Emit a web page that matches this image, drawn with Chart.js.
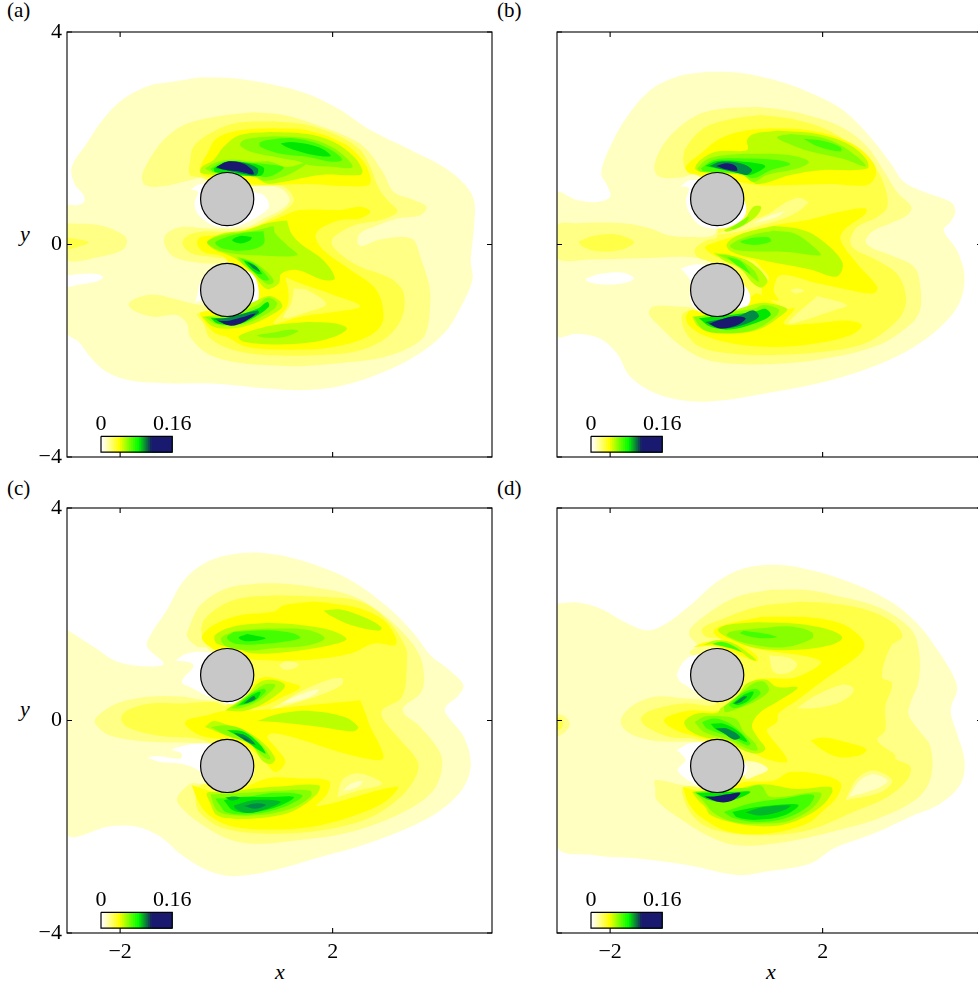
<!DOCTYPE html>
<html>
<head>
<meta charset="utf-8">
<title>Contours</title>
<script src="https://cdn.jsdelivr.net/npm/chart.js@4"></script>
<style>
  html, body { margin: 0; padding: 0; background: #fff; }
  #page { position: relative; width: 978px; height: 985px; overflow: hidden; }
  #page canvas { position: absolute; }
  #page span { position: absolute; font-family: "Liberation Serif", serif; font-size: 21px; color: #000; line-height: 24px; }
  #page span.var { font-style: italic; font-size: 22px; }
</style>
</head>
<body>
<div id="page">
  <span style="left:7px;top:-2px">(a)</span>
  <span style="left:497px;top:-2px">(b)</span>
  <span style="left:7px;top:476px">(c)</span>
  <span style="left:497px;top:476px">(d)</span>
  <span class="var" style="left:20px;top:222px">y</span>
  <span class="var" style="left:20px;top:697px">y</span>
  <span class="var" style="left:275px;top:960px">x</span>
  <span class="var" style="left:766px;top:960px">x</span>
</div>
<script>
// contour level colours, white up to navy
const levelColors = ['#ffffff', '#ffffc2', '#ffff85', '#ffff47', '#ffff00', '#bbff00', '#88ff00', '#44ff00', '#00e800', '#00b82a', '#008a48', '#0c4e62', '#191970'];

const xTicks = [-2, 2];
const yTicks = [-4, 0, 4];

const cylinderX = [0.015, 0.015];
const cylinderY = [0.855, -0.855];

// colour bar, drawn in data units
const barEdges = [-2.36, -2.32, -2.28, -2.24, -2.20, -2.16, -2.12, -2.08, -2.04, -2.00, -1.96, -1.92, -1.88, -1.84, -1.80, -1.76, -1.72, -1.68, -1.64, -1.60, -1.56, -1.52, -1.48, -1.44, -1.40, -1.02];
const barColors = ['#ffffff', '#ffffdf', '#ffffbf', '#ffff9f', '#ffff80', '#ffff60', '#ffff40', '#ffff20', '#ffff00', '#e3ff00', '#c6ff00', '#aaff00', '#8eff00', '#71ff00', '#55ff00', '#39ff00', '#1cff00', '#00ff00', '#04db10', '#07b720', '#0b9330', '#0e6f40', '#124b50', '#152760', '#191970'];
const barTop = -3.61;
const barBottom = -3.91;
const barLabels = ['0', '0.16'];
const barLabelX = [-2.36, -1.02];
const barLabelY = -3.38;

// each entry: [level, [x, y, x, y, ...]] painted in order
const fieldA = [
  [1, [-.49,3.15,-1.12,3.05,-1.43,3.00,-1.93,2.75,-2.31,2.37,-2.63,1.90,-2.91,1.46,-2.86,1.15,-2.69,.93,-2.68,.80,-2.81,.74,-3,.72,-3,-1.65,-2.78,-1.83,-2.56,-2.12,-2.25,-2.40,-1.81,-2.56,-1.12,-2.61,-.18,-2.62,.77,-2.71,1.52,-2.74,2.21,-2.65,2.96,-2.40,3.59,-2.08,4.09,-1.68,4.38,-1.24,4.63,-.67,4.60,-.30,4.66,.33,4.66,.84,4.47,1.15,4.09,1.46,3.47,1.78,2.65,2.19,2.15,2.53,1.52,2.84,.77,3.03,.14,3.13]],
  [0, [-3,-.58,-2.69,-.55,-2.41,-.56,-2.32,-.62,-2.46,-.70,-2.81,-.76,-3,-.79]],
  [2, [-3,.40,-2.37,.36,-1.93,.18,-1.87,.05,-1.96,-.11,-2.37,-.23,-3,-.28]],
  [3, [-3,.13,-2.75,.09,-2.59,.04,-2.75,-.03,-3,-.08]],
  [2, [.51,2.49,-.18,2.41,-.80,2.25,-1.18,1.97,-1.49,1.53,-1.59,1.27,-1.53,1.12,-1.24,1.09,-.68,1.21,-.36,1.27,.01,1.09,.51,1.15,1.02,1.06,1.19,.84,1.02,.65,.70,.49,.39,.33,-.30,.30,-.84,.33,-1.12,.21,-1.17,.02,-.99,-.23,-.49,-.35,-.05,-.39,.20,-.67,.33,-.92,.01,-1.17,-.49,-1.14,-.99,-1.02,-1.37,-.94,-1.68,-1.00,-1.84,-1.12,-1.75,-1.24,-1.37,-1.36,-.93,-1.33,-.74,-1.49,-.68,-1.74,-.36,-2.05,.14,-2.21,.77,-2.27,1.39,-2.29,2.34,-2.21,2.96,-2.12,3.47,-1.93,3.75,-1.68,3.84,-1.05,3.81,-.73,3.65,-.23,3.53,.08,3.28,.14,2.84,.08,2.56,-.03,2.47,.02,2.52,.21,2.84,.36,3.22,.49,3.65,.55,3.77,.71,3.53,.84,3.15,.99,2.96,1.34,2.65,1.78,2.34,2.00,1.71,2.25,1.08,2.44]],
  [3, [.89,2.32,.14,2.28,-.36,2.06,-.62,1.84,-.68,1.59,-.69,1.31,-.49,1.26,.01,1.09,.77,1.11,1.08,1.09,1.27,.84,1.11,.65,.77,.46,.45,.30,.01,.24,-.49,.24,-.77,.14,-.82,-.01,-.65,-.17,-.24,-.24,.01,-.30,.20,-.67,.33,-.92,.01,-1.24,-.55,-1.30,-.43,-1.49,-.30,-1.77,.14,-1.99,.77,-2.08,1.77,-2.08,2.52,-1.99,3.03,-1.74,3.31,-1.36,3.34,-.92,3.18,-.70,2.96,-.58,2.52,-.42,2.21,-.23,1.99,-.01,2.02,.14,2.40,.36,2.90,.46,3.22,.62,3.03,.84,2.87,1.06,2.71,1.46,2.52,1.78,2.15,2.03,1.52,2.25]],
  [4, [.89,2.19,.26,2.15,-.18,2.00,-.36,1.71,-.49,1.46,-.46,1.31,.01,1.21,.70,1.12,1.52,1.14,2.21,1.10,2.68,1.12,2.71,1.27,2.56,1.59,2.21,1.90,1.52,2.15]],
  [4, [1.02,.52,1.39,.65,2.15,.65,2.52,.71,2.71,.62,2.52,.49,2.15,.46,1.77,.30,1.68,.14,1.83,-.11,2.34,-.48,2.78,-.80,2.93,-1.11,2.93,-1.49,2.65,-1.74,2.02,-1.93,1.27,-1.98,.39,-1.93,.01,-1.74,-.24,-1.65,-.46,-1.39,-.49,-1.28,.01,-1.17,.26,-.80,.08,-.42,-.05,-.23,-.43,-.14,-.55,.01,-.49,.14,.01,.19,.51,.33]],
  [3, [1.11,-.61,1.39,-.73,2.02,-.95,2.52,-1.16,2.02,-1.27,1.39,-1.36,.89,-1.49,1.14,-1.17,1.17,-.92]],
  [2, [1.27,-.83,1.52,-.86,1.88,-1.12,1.52,-1.27,1.08,-1.38,1.22,-1.11]],
  [0, [-.67,1.04,-.49,1.14,.01,1.15,.51,.99,.70,.93,.80,.71,.58,.52,.14,.33,-.24,.36,-.52,.55,-.60,.77,-.54,.99]],
  [0, [-.58,-1.08,-.43,-1.06,.01,-1.30,.55,-1.11,.61,-.86,.48,-.55,.01,-.42,-.46,-.67,-.54,-.92]],
  [5, [.83,2.12,.26,2.06,-.05,1.84,-.24,1.59,-.46,1.46,-.48,1.35,-.24,1.31,.51,1.27,.77,1.15,1.08,1.18,1.77,1.31,2.52,1.31,2.56,1.40,2.40,1.65,2.02,1.93,1.52,2.08]],
  [5, [1.14,.45,.77,.40,.39,.27,-.05,.21,-.36,.05,-.24,-.09,.11,-.23,.33,-.39,.55,-.61,.70,-.80,.80,-.84,.99,-.73,1.03,-.55,1.33,-.48,1.83,-.67,2.04,-.64,1.83,-.30,1.39,.02,1.22,.21]],
  [5, [1.52,-1.46,.89,-1.52,.39,-1.65,.23,-1.74,.33,-1.83,.89,-1.88,1.52,-1.85,2.02,-1.74,2.27,-1.58,2.02,-1.48]],
  [5, [-.46,-1.36,-.24,-1.55,.08,-1.58,.51,-1.49,.89,-1.30,1.05,-1.17,.99,-1.05,.80,-.97,.58,-1.05,.01,-1.30]],
  [6, [.89,2.04,.36,1.98,.26,1.87,.51,1.73,1.02,1.63,1.39,1.56,1.58,1.49,2.02,1.46,2.37,1.45,2.27,1.62,1.96,1.85,1.52,2.00]],
  [6, [-.40,1.43,-.24,1.53,.08,1.60,.51,1.56,.83,1.56,1.14,1.46,1.52,1.54,1.33,1.40,1.02,1.26,.70,1.20,.51,1.31,-.24,1.35]],
  [7, [1.02,2.00,.64,1.93,.64,1.84,1.02,1.71,1.52,1.65,1.96,1.56,2.18,1.59,2.02,1.75,1.65,1.92,1.27,2.00]],
  [8, [1.02,1.90,1.14,1.83,1.52,1.71,1.96,1.66,1.83,1.79,1.52,1.89,1.21,1.93]],
  [7, [-.30,1.43,-.05,1.56,.45,1.54,.77,1.51,1.08,1.45,.89,1.31,.70,1.27,.45,1.34,-.24,1.37]],
  [8, [-.24,1.43,.01,1.55,.39,1.54,.70,1.45,.67,1.31,.45,1.29,-.21,1.36]],
  [10, [-.21,1.44,.01,1.56,.33,1.54,.59,1.43,.57,1.31,.42,1.31]],
  [12, [-.19,1.46,.01,1.56,.30,1.53,.48,1.41,.51,1.32,.26,1.37,-.05,1.41]],
  [6, [.89,.35,.51,.26,-.05,.18,-.36,.05,-.21,-.08,.11,-.17,.51,-.20,1.33,-.20,1.14,-.01,.92,.21]],
  [7, [.70,.25,.33,.22,-.08,.11,-.21,.03,-.05,-.08,.39,-.11,.70,.01]],
  [8, [.48,.14,.26,.16,.11,.08,.26,.02,.45,.08]],
  [6, [.20,-.23,.51,-.33,.80,-.55,.89,-.70,.77,-.75,.58,-.58,.30,-.36]],
  [7, [.26,-.26,.51,-.35,.73,-.55,.80,-.67,.67,-.66,.45,-.45]],
  [8, [.33,-.30,.51,-.37,.67,-.55,.58,-.55,.39,-.39]],
  [10, [.39,-.33,.55,-.41,.63,-.51,.51,-.45]],
  [6, [-.40,-1.36,-.21,-1.49,.14,-1.53,.45,-1.46,.89,-1.22,.95,-1.09,.77,-1.00,.58,-1.14,.01,-1.36]],
  [8, [-.30,-1.38,-.18,-1.48,.14,-1.51,.42,-1.43,.80,-1.17,.77,-1.08,.58,-1.21,.01,-1.38]],
  [10, [-.24,-1.40,.08,-1.51,.39,-1.41,.61,-1.29,.58,-1.24,.01,-1.38]],
  [12, [-.18,-1.43,.08,-1.53,.33,-1.46,.55,-1.30,.26,-1.38,.01,-1.44]],
  [6, [.92,-1.65,.58,-1.71,.70,-1.75,1.08,-1.74,1.36,-1.63,1.21,-1.60]]
];

const fieldB = [
  [1, [-.18,3.25,.39,3.24,1.08,3.10,1.71,2.88,2.34,2.56,2.84,2.09,3.28,1.53,3.53,1.18,3.91,.99,4.41,.80,4.50,.62,4.41,.43,4.28,.27,4.53,-.11,4.67,-.61,4.57,-1.11,4.22,-1.55,3.72,-1.93,3.03,-2.27,2.02,-2.59,.89,-2.81,.14,-2.93,-.49,-2.95,-1.12,-2.81,-1.62,-2.49,-1.87,-2.05,-2.19,-1.77,-2.63,-1.68,-3,-1.71,-3,.96,-2.63,.84,-2.25,.80,-2.00,.90,-2.06,1.12,-2.17,1.34,-2.00,1.84,-1.68,2.41,-1.24,2.91,-.74,3.16]],
  [0, [-2.46,-.64,-2.18,-.55,-1.75,-.53,-1.55,-.64,-1.75,-.73,-2.18,-.75,-2.43,-.69]],
  [2, [.77,2.59,.14,2.56,-.36,2.44,-.80,2.12,-1.06,1.78,-1.17,1.43,-1.06,1.27,-.68,1.26,-.36,1.31,-.05,.96,.01,.40,-.05,.18,-.49,.14,-.93,.18,-1.24,.30,-1.75,.40,-2.63,.40,-3,.36,-3,-.26,-2.37,-.28,-1.43,-.26,-.49,-.24,-.05,-.37,.20,-.80,.01,-1.17,-.65,-1.17,-1.18,-1.16,-1.27,-1.30,-1.06,-1.55,-.68,-1.90,-.24,-2.15,.26,-2.24,1.08,-2.25,2.02,-2.15,2.96,-1.93,3.47,-1.65,3.81,-1.30,3.84,-.80,3.72,-.42,3.28,-.20,2.96,-.08,2.81,.05,2.93,.24,3.28,.40,3.59,.55,3.67,.71,3.40,.99,3.18,1.34,2.84,1.84,2.34,2.22,1.71,2.44,1.08,2.56]],
  [3, [-2.60,.05,-2.32,.16,-1.88,.19,-1.55,.05,-1.75,-.09,-2.19,-.13,-2.50,-.05]],
  [3, [.83,2.44,.26,2.36,-.24,2.19,-.58,1.81,-.62,1.53,-.52,1.34,-.36,1.31,.01,.96,.01,.14,-.18,.08,-.40,-.08,-.36,-.23,.01,-.39,.26,-.80,.01,-1.21,-.49,-1.24,-.65,-1.33,-.58,-1.65,-.30,-1.93,.26,-2.05,1.08,-2.08,2.02,-2.02,2.78,-1.87,3.28,-1.55,3.53,-1.24,3.56,-.92,3.40,-.55,3.03,-.30,2.59,-.08,2.52,.08,2.65,.33,3.03,.52,3.22,.71,3.15,1.15,2.93,1.53,2.52,1.90,2.02,2.19,1.39,2.37]],
  [2, [1.74,.80,1.55,.88,1.27,.77,.99,.58,.70,.46,.33,.30,-.02,.19,.39,.24,.83,.36,1.27,.49,1.58,.65]],
  [1, [1.30,.63,1.02,.55,.70,.40,.83,.43,1.14,.52]],
  [4, [1.02,2.19,.58,2.15,.08,2.00,-.30,1.71,-.58,1.46,-.49,1.34,.01,1.27,.77,1.12,1.39,1.12,2.15,1.14,2.84,1.12,3.00,1.31,2.96,1.53,2.65,1.84,2.15,2.06,1.58,2.17]],
  [4, [.01,.05,.51,.21,1.08,.36,1.71,.46,2.34,.62,2.81,.68,2.81,.58,2.40,.27,2.34,.08,2.65,-.36,3.03,-.80,2.96,-.92,2.52,-.86,1.90,-.73,1.21,-.58,1.08,-.86,1.17,-1.05,.89,-.99,.86,-.80,.99,-.64,.83,-.42,.70,-.30,.26,-.23,.01,-.23,-.18,-.11,-.21,-.04]],
  [4, [-.58,-1.36,-.49,-1.24,.01,-1.30,.64,-.99,.77,-.92,.92,-1.00,1.33,-1.21,1.47,-1.21,1.27,-1.49,1.77,-1.49,2.46,-1.43,2.74,-1.52,2.52,-1.71,1.83,-1.87,1.08,-1.93,.33,-1.87,-.24,-1.71,-.52,-1.52]],
  [2, [1.39,-.86,1.52,-.83,1.65,-.87,1.49,-.92]],
  [2, [1.90,-.97,2.46,-1.14,2.21,-1.24,1.36,-1.49,1.52,-1.30,1.74,-1.11]],
  [0, [-.68,1.09,-.49,1.21,.01,1.15,.51,.84,.55,.58,.39,.40,.08,.30,-.30,.36,-.52,.62,-.57,.84,-.52,1.06]],
  [0, [-.67,-.45,-.36,-.37,.01,-.45,.55,-.80,.64,-1.05,.51,-1.21,.01,-1.33,-.36,-1.24,-.49,-1.05,-.50,-.67,-.58,-.55]],
  [5, [1.14,2.14,.70,2.08,.58,1.97,.58,1.78,.01,1.75,-.30,1.59,-.40,1.43,-.30,1.37,.51,1.31,.77,1.14,1.39,1.31,1.96,1.40,2.84,1.43,2.81,1.62,2.46,1.90,1.90,2.08]],
  [5, [1.08,.35,.51,.21,.20,.02,.26,-.12,.70,-.26,1.77,-.47,2.27,-.60,2.37,-.33,1.90,.14,1.52,.30]],
  [5, [-.05,-.16,.26,-.20,.64,-.33,.96,-.67,.86,-.81,.70,-.74,.45,-.45,.14,-.30]],
  [5, [.14,.27,.51,.46,.70,.71,.84,.71,.77,.55,.51,.36,.20,.24]],
  [6, [.26,.30,.51,.47,.61,.52,.55,.40,.33,.29]],
  [5, [-.46,-1.36,-.33,-1.55,.08,-1.67,.77,-1.61,1.27,-1.30,1.33,-1.21,1.02,-1.11,.77,-1.11,.01,-1.33]],
  [6, [-.43,-1.36,-.24,-1.61,.14,-1.67,.70,-1.61,1.14,-1.33,1.17,-1.22,.89,-1.14,.70,-1.21]],
  [8, [-.33,-1.39,-.11,-1.55,.26,-1.60,.70,-1.49,1.02,-1.33,.92,-1.21,.70,-1.27]],
  [10, [-.21,-1.46,.08,-1.58,.51,-1.51,.80,-1.36,.70,-1.24,.45,-1.33]],
  [12, [-.14,-1.49,.08,-1.58,.39,-1.52,.55,-1.39,.33,-1.35,.08,-1.41]],
  [6, [1.39,2.08,1.14,2.02,1.33,1.91,1.77,1.75,2.40,1.61,2.81,1.47,2.65,1.65,2.34,1.87,1.96,2.02]],
  [7, [1.64,1.99,1.90,1.85,2.34,1.75,2.34,1.83,2.02,1.95]],
  [6, [-.36,1.43,-.18,1.60,.14,1.68,.77,1.71,1.39,1.68,1.74,1.56,1.52,1.43,.95,1.31,.70,1.18,.48,1.31,-.30,1.37]],
  [7, [-.29,1.43,-.05,1.59,.51,1.62,1.14,1.59,1.39,1.51,1.02,1.40,.70,1.25,.45,1.34,-.24,1.38]],
  [8, [-.21,1.48,.01,1.57,.51,1.56,.92,1.48,.64,1.31,.45,1.34]],
  [10, [-.13,1.48,.08,1.56,.45,1.53,.67,1.41,.58,1.31,.42,1.34]],
  [12, [0,1.48,.20,1.53,.36,1.48,.39,1.39,.20,1.41]],
  [6, [1.08,.26,.67,.18,.26,-.01,.39,-.11,1.33,-.14,1.96,-.20,1.83,-.04,1.46,.21]],
  [7, [.70,.13,.45,.05,.70,-.01,1.02,.05,.99,.13]],
  [6, [.01,-.19,.33,-.23,.70,-.48,.80,-.70,.67,-.61,.42,-.39]],
  [7, [.20,-.23,.45,-.31,.64,-.55,.55,-.50,.33,-.35]]
];

const fieldC = [
  [1, [-3,1.71,-2.50,1.39,-2.06,1.11,-1.56,1.02,-1.18,1.07,-1.49,1.39,-1.43,1.61,-1.12,2.08,-.80,2.64,-.36,2.99,.26,3.15,.89,3.13,1.58,2.96,2.34,2.64,3.03,2.14,3.53,1.64,3.84,1.23,4.16,.98,4.46,.67,4.35,.45,4.13,.26,4.13,.13,4.47,-.31,4.60,-.81,4.47,-1.25,4.03,-1.69,3.47,-2.00,2.65,-2.32,1.77,-2.57,.89,-2.82,.14,-2.93,-.36,-2.82,-.87,-2.51,-1.24,-2.19,-1.68,-2.00,-2.19,-1.99,-3,-2.12]],
  [2, [.58,2.58,.01,2.49,-.49,2.17,-.71,1.73,-.74,1.58,-.55,1.39,-.36,1.36,.01,.89,-.05,.41,-.36,.38,-.87,.45,-1.43,.45,-2.06,.32,-2.44,.07,-2.47,-.06,-2.19,-.28,-1.43,-.40,-.43,-.45,.01,-.68,.14,-1.12,-.49,-1.19,-.68,-1.19,-.93,-1.47,-.80,-1.69,-.49,-1.94,.01,-2.22,.51,-2.32,1.39,-2.25,2.34,-2.10,3.28,-1.75,3.84,-1.38,4.04,-1.00,4.03,-.62,3.65,-.12,3.34,.13,3.34,.26,3.65,.51,3.72,.76,3.65,1.20,3.34,1.64,2.84,2.08,2.34,2.36,1.58,2.52,1.02,2.58]],
  [3, [.89,2.36,.14,2.27,-.40,1.92,-.46,1.61,-.24,1.39,.01,.89,.01,.29,-.24,.35,-.80,.32,-1.43,.32,-1.87,.19,-1.98,.04,-1.87,-.12,-1.31,-.28,-.43,-.37,.01,-.68,.26,-1.12,-.49,-1.22,-.58,-1.50,-.49,-1.75,-.05,-2.03,.77,-2.13,1.77,-2.07,2.65,-1.85,3.28,-1.44,3.59,-1.00,3.59,-.75,3.28,-.37,2.96,.01,2.93,.19,3.31,.45,3.40,1.14,3.37,1.39,3.03,1.89,2.52,2.24,1.77,2.33]],
  [4, [1.65,2.24,1.08,2.17,.89,2.05,.26,1.98,-.24,1.80,-.46,1.58,-.36,1.42,.01,1.23,.64,1.14,1.52,1.14,2.34,1.26,2.78,1.45,3.18,1.42,3.18,1.58,2.96,1.89,2.52,2.11,2.02,2.20]],
  [4, [2.52,.38,2.62,.13,2.71,-.12,2.87,-.43,2.95,-.72,2.65,-.72,2.02,-.56,1.33,-.34,.89,-.24,.77,-.31,.95,-.53,1.11,-.78,.92,-.97,.70,-.75,.39,-.50,.01,-.37,-.49,-.28,-.77,-.09,-.74,.01,-.36,.10,-.05,.18,.51,.19,1.27,.26]],
  [4, [.01,.23,.33,.38,.58,.76,.77,.82,1.14,.73,1.39,.63,1.08,.45,.64,.26]],
  [2, [1.02,.32,1.39,.54,1.90,.76,2.18,.79,2.18,.68,1.77,.48,1.27,.32,.83,.21]],
  [1, [1.02,.32,1.39,.49,1.74,.59,1.65,.48,1.27,.35]],
  [2, [.99,1.04,1.14,1.12,1.36,1.06,1.27,.98,1.08,.96]],
  [4, [-.65,-1.22,.01,-1.38,.77,-1.09,1.39,-1.09,1.93,-1.14,1.90,-1.38,1.71,-1.61,3.22,-1.24,3.03,-1.50,2.52,-1.75,1.77,-1.97,1.02,-2.05,.14,-2.00,-.33,-1.78,-.54,-1.50]],
  [2, [2.09,-1.44,2.18,-1.12,2.40,-1.00,2.65,-1.03,2.93,-1.19,2.52,-1.31]],
  [1, [2.20,-1.32,2.34,-1.19,2.56,-1.14,2.52,-1.22,2.34,-1.30]],
  [0, [-.96,1.13,-.74,1.26,-.43,1.29,.01,1.20,.48,.70,.14,.32,-.30,.44,-.62,.60,-.84,.73,-.62,1.01,-.68,1.09]],
  [0, [-1.49,-.70,-1.31,-.67,-.87,-.72,-.84,-.62,-1.02,-.55,-.49,-.43,.01,-.50,.51,-.87,.45,-1.12,.01,-1.38,-.36,-1.19,-.52,-.94,-.87,-.81,-1.24,-.78]],
  [5, [1.83,2.07,2.15,2.09,2.65,1.92,2.92,1.75,2.87,1.69,2.34,1.80,1.96,1.97]],
  [5, [.77,1.84,.14,1.77,-.21,1.61,-.18,1.45,.20,1.36,.51,1.26,1.39,1.32,2.08,1.45,2.26,1.54,1.96,1.70,1.39,1.80]],
  [6, [.77,1.73,.20,1.68,-.10,1.55,.01,1.39,.45,1.32,.89,1.36,1.52,1.41,1.85,1.55,1.52,1.71]],
  [7, [.14,1.67,.01,1.56,.20,1.44,.77,1.45,1.39,1.55,1.27,1.64,.77,1.70]],
  [8, [.39,1.63,.23,1.56,.39,1.49,.74,1.55]],
  [5, [.58,-.01,1.02,.13,1.58,.18,2.21,.07,2.48,-.12,2.39,-.20,1.77,-.12,1.08,-.04]],
  [5, [-.02,.19,.39,.48,.64,.73,.92,.76,1.10,.67,1.02,.54,.70,.32,.33,.18]],
  [6, [.08,.23,.42,.48,.70,.67,.92,.67,.83,.54,.58,.35,.26,.23]],
  [7, [.17,.26,.45,.50,.70,.60,.74,.54,.51,.35]],
  [8, [.23,.29,.48,.48,.64,.54,.58,.41,.39,.32]],
  [10, [.33,.32,.51,.46,.55,.41,.39,.33]],
  [5, [-.40,-.12,-.24,-.01,.08,-.11,.39,-.21,.70,-.43,.92,-.72,.83,-.82,.67,-.75,.45,-.43,.08,-.31]],
  [6, [-.29,-.12,.01,-.09,.33,-.18,.67,-.46,.83,-.72,.70,-.69,.42,-.43,.01,-.28]],
  [8, [.01,-.18,.33,-.21,.61,-.43,.74,-.62,.63,-.57,.33,-.36]],
  [10, [.14,-.23,.36,-.28,.55,-.45,.45,-.43,.26,-.32]],
  [11, [.26,-.29,.45,-.39,.39,-.38]],
  [5, [.01,-1.36,.51,-1.28,1.02,-1.24,1.74,-1.22,1.71,-1.38,1.27,-1.70,.77,-1.82,.14,-1.85,-.18,-1.78,-.30,-1.56,-.36,-1.36]],
  [6, [-.30,-1.39,.01,-1.38,.51,-1.35,1.02,-1.32,1.58,-1.32,1.58,-1.44,1.21,-1.66,.64,-1.78,.08,-1.78,-.18,-1.69]],
  [7, [-.21,-1.47,.39,-1.44,.89,-1.36,1.43,-1.41,1.08,-1.63,.51,-1.76,.01,-1.73,-.14,-1.57]],
  [8, [-.05,-1.50,.26,-1.44,.77,-1.44,1.27,-1.44,1.02,-1.60,.51,-1.73,.14,-1.70]],
  [9, [.14,-1.60,.51,-1.50,1.02,-1.53,.77,-1.66,.39,-1.74,.17,-1.66]],
  [10, [.33,-1.61,.55,-1.56,.74,-1.59,.55,-1.66]],
  [9, [-.02,-1.45,.14,-1.43,.26,-1.45,.11,-1.51]]
];

const fieldD = [
  [1, [-3,2.20,-2.63,2.22,-2.19,2.11,-1.68,1.83,-1.31,1.70,-.99,1.80,-.49,2.17,.01,2.61,.51,2.86,1.14,2.93,1.90,2.80,2.65,2.55,3.28,2.24,3.78,1.83,4.16,1.33,4.47,.82,4.53,.57,4.41,.19,4.53,-.24,4.67,-.75,4.60,-1.19,4.22,-1.56,3.65,-1.81,3.03,-2.10,2.21,-2.41,1.77,-2.69,.89,-2.85,.39,-2.91,-.49,-2.73,-1.43,-2.60,-2.25,-2.54,-3,-2.35]],
  [2, [-3,.13,-2.84,.07,-2.76,-.07,-2.84,-.21,-3,-.28]],
  [3, [-3,.07,-2.9,.01,-2.9,-.12,-3,-.18]],
  [2, [1.02,2.46,.39,2.33,-.11,2.05,-.49,1.73,-.50,1.58,-.36,1.42,-.50,1.27,.01,.95,.01,.45,-.49,.41,-1.12,.45,-1.56,.29,-1.80,.01,-1.68,-.21,-1.24,-.37,-.74,-.40,-.36,-.42,.01,-.62,.26,-1.00,.01,-1.31,-.62,-1.22,-1.15,-1.12,-1.15,-1.28,-1.12,-1.50,-.68,-1.85,-.18,-2.16,.39,-2.35,1.27,-2.29,2.27,-2.07,3.03,-1.85,3.78,-1.47,4.04,-1.06,4.03,-.50,3.81,-.18,3.62,.10,3.65,.32,3.81,.76,3.81,1.33,3.65,1.73,3.03,2.14,2.21,2.36,1.65,2.46]],
  [3, [1.58,2.24,.77,2.14,.14,1.92,-.27,1.73,-.21,1.58,.14,1.48,.01,.89,.01,.32,-.62,.32,-1.24,.19,-1.42,.04,-1.31,-.12,-.87,-.31,-.36,-.36,.01,-.62,.20,-1.00,.01,-1.28,-.62,-1.25,-.58,-1.56,-.36,-1.88,.01,-2.07,.77,-2.16,1.71,-2.07,2.65,-1.69,3.22,-1.44,3.59,-1.12,3.65,-.87,3.37,-.72,3.37,-.65,3.03,-.37,3.18,-.18,3.18,.26,3.31,.70,3.12,.82,3.28,1.39,3.50,1.58,3.34,1.83,2.84,2.08,2.21,2.20]],
  [2, [1.52,.23,1.83,.45,2.34,.67,2.56,.63,2.56,.51,2.27,.32,1.83,.23]],
  [2, [2.43,-1.50,2.65,-1.09,2.96,-.94,3.31,-1.13,3.09,-1.35]],
  [1, [2.49,-1.44,2.71,-1.12,2.96,-1.01,3.22,-1.13,3.03,-1.28]],
  [4, [.83,1.95,.08,1.78,-.05,1.67,.08,1.54,.70,1.36,1.96,1.12,1.52,.82,.95,.79,.70,.76,.39,.45,.08,.19,-.49,.19,-.93,.07,-.98,-.03,-.77,-.18,-.36,-.31,.01,-.40,.39,-.50,.70,-.62,1.02,-.75,1.33,-.78,1.27,-.62,1.02,-.31,.95,-.18,1.14,-.03,1.17,.13,1.52,.38,2.02,.76,2.68,1.23,2.79,1.42,2.68,1.61,2.34,1.83,1.77,1.94]],
  [2, [.99,1.23,1.39,1.17,1.52,1.04,1.33,.89,1.08,.92]],
  [4, [1.77,-.37,2.02,-.32,2.52,-.43,2.83,-.55,2.65,-.67,2.27,-.68,1.96,-.53]],
  [4, [-.63,-1.25,.01,-1.38,.51,-1.16,1.08,-1.13,1.39,-.97,2.02,-1.03,2.34,-1.18,2.27,-1.44,2.02,-1.69,1.71,-1.94,1.02,-2.12,.26,-2.10,-.30,-1.81,-.52,-1.56]],
  [1, [.55,-.75,.83,-.81,.97,-.92,.77,-1.03,.55,-1.09]],
  [0, [-.75,.85,-.65,1.07,-.43,1.23,.01,1.20,.45,.70,.14,.38,-.30,.48,-.52,.63,-.68,.73]],
  [0, [-.75,-.56,-.49,-.43,.01,-.43,.55,-.81,.55,-1.00,.01,-1.38,-.36,-1.22,-.73,-.94,-.58,-.75,-.67,-.62]],
  [4, [-.43,1.39,-.18,1.48,.26,1.51,.58,1.36,.77,1.20,.77,1.11,.58,1.17,.01,1.39]],
  [5, [-.24,1.42,.01,1.51,.33,1.45,.61,1.26,.75,1.13,.64,1.16,.39,1.33,.01,1.43]],
  [7, [-.08,1.44,.11,1.48,.33,1.40,.48,1.29,.30,1.35]],
  [5, [.77,1.85,.20,1.80,.03,1.70,.26,1.54,.77,1.36,1.52,1.33,2.15,1.42,2.37,1.56,2.15,1.70,1.52,1.82]],
  [6, [.77,1.73,.26,1.67,.20,1.60,.58,1.45,1.27,1.38,1.80,1.54,1.80,1.66,1.39,1.77]],
  [7, [.51,1.69,.45,1.64,.83,1.55,1.14,1.57,.95,1.63]],
  [5, [.08,.23,.39,.45,.58,.70,.92,.77,1.14,.63,1.53,.62,1.14,.35,.83,.16,.67,-.09,.77,-.31,.92,-.53,.77,-.62,.51,-.56,.20,-.37,-.24,-.31,-.52,-.18,-.60,-.02,-.36,.13,.01,.14]],
  [6, [.14,.26,.42,.48,.70,.70,.89,.73,.99,.57,.77,.38,.42,.23,.17,.16]],
  [7, [.23,.29,.48,.51,.73,.60,.83,.51,.58,.32,.33,.23]],
  [8, [.30,.32,.51,.48,.70,.54,.61,.38,.42,.29]],
  [10, [.33,.32,.51,.45,.58,.45,.48,.36,.39,.32]],
  [6, [-.41,-.03,-.21,.08,.20,.07,.39,.01,.51,-.21,.73,-.43,.77,-.56,.58,-.53,.26,-.37,-.24,-.21]],
  [7, [-.27,-.03,-.05,.04,.20,-.03,.45,-.21,.64,-.43,.58,-.47,.26,-.31,-.18,-.15]],
  [8, [-.11,-.06,.14,-.06,.42,-.21,.58,-.40,.33,-.31,.01,-.18]],
  [10, [-.02,-.15,.20,-.15,.45,-.31,.33,-.36,.14,-.24]],
  [5, [-.46,-1.34,.01,-1.44,.51,-1.26,.89,-1.20,1.52,-1.29,2.15,-1.25,2.18,-1.35,1.96,-1.63,1.52,-1.88,1.02,-1.99,.39,-1.94,-.11,-1.78,-.21,-1.63,-.36,-1.48]],
  [6, [-.39,-1.34,.01,-1.38,.51,-1.29,.83,-1.22,1.02,-1.44,1.96,-1.36,1.83,-1.63,1.39,-1.88,.89,-1.94,.33,-1.91,-.05,-1.74,-.21,-1.56]],
  [7, [.14,-1.72,.64,-1.56,1.27,-1.47,1.83,-1.40,1.71,-1.63,1.27,-1.85,.77,-1.91,.33,-1.84]],
  [8, [.30,-1.72,.77,-1.63,1.39,-1.57,1.55,-1.60,1.27,-1.79,.77,-1.87,.39,-1.82]],
  [9, [.55,-1.73,.89,-1.63,1.39,-1.60,1.27,-1.69,.83,-1.79]],
  [6, [-.44,-1.34,-.18,-1.53,.20,-1.56,.58,-1.44,.77,-1.34,.58,-1.27]],
  [8, [-.39,-1.36,-.18,-1.48,.14,-1.53,.48,-1.44,.64,-1.34,.39,-1.34]],
  [12, [-.23,-1.43,.08,-1.54,.33,-1.49,.45,-1.36,.20,-1.39,-.05,-1.43]]
];

function toPoints(flat) {
    const pts = [];
    for (let i = 0; i < flat.length; i += 2) {
        pts.push({ x: flat[i], y: flat[i + 1] });
    }
    pts.push({ x: flat[0], y: flat[1] });
    return pts;
}

function polygonDataset(color, points, tension) {
    return {
        data: points,
        showLine: true,
        fill: 'shape',
        backgroundColor: color,
        borderWidth: 0,
        pointRadius: 0,
        tension: tension
    };
}

function buildDatasets(field) {
    const sets = field.map(item => polygonDataset(levelColors[item[0]], toPoints(item[1]), 0.35));
    const barEnd = barEdges[barEdges.length - 1];

    // each step runs to the bar's end and the next one paints over it, so no seams show
    barColors.forEach((color, i) => {
        const rect = [barEdges[i], barTop, barEnd, barTop, barEnd, barBottom, barEdges[i], barBottom];
        sets.push(polygonDataset(color, toPoints(rect), 0));
    });

    sets.push({
        data: toPoints([barEdges[0], barTop, barEnd, barTop, barEnd, barBottom, barEdges[0], barBottom]),
        showLine: true,
        fill: false,
        borderColor: '#000',
        borderWidth: 1.2,
        pointRadius: 0,
        tension: 0
    });

    sets.push({
        data: cylinderX.map((x, i) => ({ x: x, y: cylinderY[i] })),
        showLine: false,
        pointRadius: 26.6,
        pointBackgroundColor: '#c8c8c8',
        pointBorderColor: '#000',
        pointBorderWidth: 1.2
    });

    // Chart.js paints the first dataset last
    return sets.reverse();
}

const framePlugin = {
    id: 'frame',
    afterDraw(chart) {
        const { ctx, chartArea: a, scales } = chart;
        ctx.save();
        ctx.strokeStyle = '#000';
        ctx.lineWidth = 1.1;
        ctx.strokeRect(a.left, a.top, a.width, a.height);
        ctx.beginPath();
        xTicks.forEach(v => {
            const px = scales.x.getPixelForValue(v);
            ctx.moveTo(px, a.bottom); ctx.lineTo(px, a.bottom - 5);
            ctx.moveTo(px, a.top); ctx.lineTo(px, a.top + 5);
        });
        yTicks.forEach(v => {
            const py = scales.y.getPixelForValue(v);
            ctx.moveTo(a.left, py); ctx.lineTo(a.left + 5, py);
            ctx.moveTo(a.right, py); ctx.lineTo(a.right - 5, py);
        });
        ctx.stroke();

        ctx.fillStyle = '#000';
        ctx.font = '22px "Liberation Serif"';
        ctx.textAlign = 'center';
        ctx.textBaseline = 'middle';
        barLabels.forEach((label, i) => {
            ctx.fillText(label, scales.x.getPixelForValue(barLabelX[i]), scales.y.getPixelForValue(barLabelY));
        });
        ctx.restore();
    }
};

function formatTick(v) {
    return String(v).replace('-', '\u2212');
}

function drawPanel(field, left, top, showX, showY) {
    const canvas = document.createElement('canvas');
    canvas.width = 505;
    canvas.height = 509;
    canvas.style.left = left + 'px';
    canvas.style.top = top + 'px';
    document.getElementById('page').appendChild(canvas);

    const tickFont = { family: '"Liberation Serif"', size: 22 };

    new Chart(canvas.getContext('2d'), {
        type: 'scatter',
        data: { datasets: buildDatasets(field) },
        plugins: [framePlugin],
        options: {
            responsive: false,
            animation: false,
            events: [],
            layout: { autoPadding: false, padding: { top: 32, right: 13, left: 0, bottom: 0 } },
            plugins: { legend: { display: false }, tooltip: { enabled: false } },
            scales: {
                x: {
                    type: 'linear', min: -3, max: 5,
                    grid: { display: false, drawTicks: false }, border: { display: false },
                    afterBuildTicks(s) { s.ticks = xTicks.map(v => ({ value: v })); },
                    afterFit(s) { s.height = 52; },
                    ticks: { display: showX, color: '#000', font: tickFont, padding: 6, autoSkip: false, maxRotation: 0, callback: formatTick }
                },
                y: {
                    type: 'linear', min: -4, max: 4,
                    grid: { display: false, drawTicks: false }, border: { display: false },
                    afterBuildTicks(s) { s.ticks = yTicks.map(v => ({ value: v })); },
                    afterFit(s) { s.width = 67; },
                    ticks: { display: showY, color: '#000', font: tickFont, padding: 5, autoSkip: false, callback: formatTick }
                }
            }
        }
    });
}

drawPanel(fieldA, 0, 0, false, true);
drawPanel(fieldB, 490, 0, false, false);
drawPanel(fieldC, 0, 476, true, true);
drawPanel(fieldD, 490, 476, true, false);
</script>
</body>
</html>
